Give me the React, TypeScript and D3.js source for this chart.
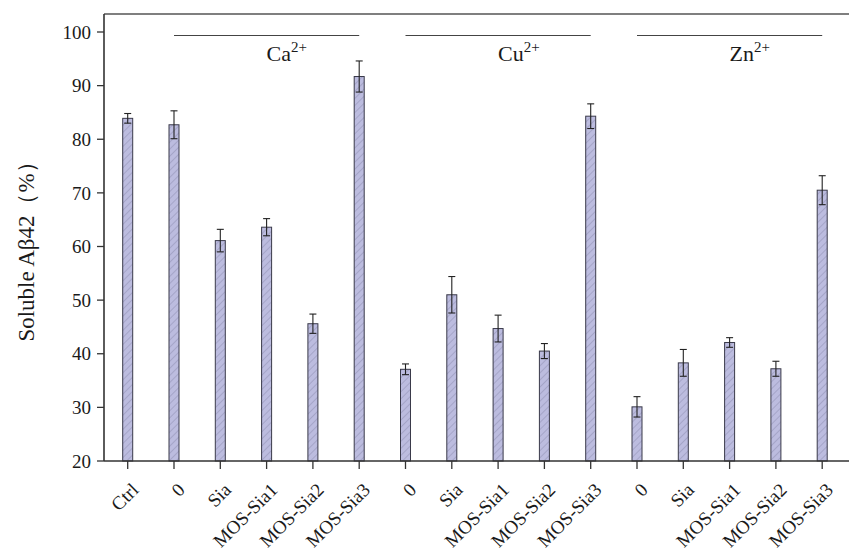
import React from "react";
import * as d3 from "d3";

const categories = ["Ctrl", "0", "Sia", "MOS-Sia1", "MOS-Sia2", "MOS-Sia3", "0", "Sia", "MOS-Sia1", "MOS-Sia2", "MOS-Sia3", "0", "Sia", "MOS-Sia1", "MOS-Sia2", "MOS-Sia3"];
const values = [83.9, 82.7, 61.1, 63.6, 45.6, 91.7, 37.1, 51.0, 44.7, 40.5, 84.3, 30.1, 38.3, 42.1, 37.2, 70.5];
const errors = [0.9, 2.6, 2.1, 1.6, 1.8, 2.9, 1.0, 3.4, 2.5, 1.4, 2.3, 1.9, 2.5, 0.9, 1.4, 2.7];
const yTicks = [20, 30, 40, 50, 60, 70, 80, 90, 100];
const groupNames = ["Ca", "Cu", "Zn"];
const groupStart = [1, 6, 11];
const groupEnd = [5, 10, 15];

const W = 849;
const H = 554;
const FONT = "'Times New Roman', 'Liberation Serif', serif";

export default function App() {
  const idx = categories.map((_, i) => i);
  const x = d3.scalePoint<number>().domain(idx).range([127.7, 822.2]);
  const y = d3.scaleLinear().domain([20, 100]).range([461, 32]);
  const left = 104;
  const top = 14;
  const bottom = y(20);
  const barW = 10;
  const capW = 7;

  return (
    <svg width={W} height={H} style={{ position: "absolute", left: 0, top: 0, background: "#fff" }} fontFamily={FONT}>
      <defs>
        <pattern id="hatch" patternUnits="userSpaceOnUse" width="5" height="5" patternTransform="rotate(45)">
          <rect width="5" height="5" fill="#bcbcdf" />
          <line x1="0" y1="0" x2="0" y2="5" stroke="#8e8eb2" strokeWidth="1" />
        </pattern>
      </defs>

      {/* bars */}
      {idx.map((i) => (
        <rect key={"b" + i} x={x(i)! - barW / 2} y={y(values[i])} width={barW} height={bottom - y(values[i])}
          fill="url(#hatch)" stroke="#3a3a4a" strokeWidth={1} />
      ))}

      {/* error bars */}
      {idx.map((i) => {
        const cx = x(i)!;
        const hi = y(values[i] + errors[i]);
        const lo = y(values[i] - errors[i]);
        return (
          <g key={"e" + i} stroke="#222" strokeWidth={1.1}>
            <line x1={cx} x2={cx} y1={hi} y2={lo} />
            <line x1={cx - capW / 2} x2={cx + capW / 2} y1={hi} y2={hi} />
            <line x1={cx - capW / 2} x2={cx + capW / 2} y1={lo} y2={lo} />
          </g>
        );
      })}

      {/* frame */}
      <line x1={left} x2={W + 2} y1={top} y2={top} stroke="#555" strokeWidth={1.6} />
      <line x1={left} x2={left} y1={top} y2={bottom} stroke="#333" strokeWidth={1.6} />
      <line x1={left} x2={W + 2} y1={bottom} y2={bottom} stroke="#333" strokeWidth={1.6} />

      {/* y ticks */}
      {yTicks.map((t) => (
        <g key={"yt" + t}>
          <line x1={left - 7} x2={left} y1={y(t)} y2={y(t)} stroke="#333" strokeWidth={1.3} />
          <text x={left - 13} y={y(t)} dy="0.35em" textAnchor="end" fontSize={19} fill="#1a1a1a">{t}</text>
        </g>
      ))}

      {/* x ticks and labels */}
      {idx.map((i) => (
        <g key={"xt" + i}>
          <line x1={x(i)} x2={x(i)} y1={bottom} y2={bottom + 8} stroke="#333" strokeWidth={1.3} />
          <text transform={`translate(${x(i)! + 12},${491}) rotate(-45)`} textAnchor="end" fontSize={19} fill="#1a1a1a">
            {categories[i]}
          </text>
        </g>
      ))}

      {/* group annotations */}
      {groupNames.map((g, k) => {
        const x0 = x(groupStart[k])!;
        const x1 = x(groupEnd[k])!;
        const mid = (x0 + x1) / 2;
        return (
          <g key={"g" + g}>
            <line x1={x0} x2={x1} y1={35.5} y2={35.5} stroke="#444" strokeWidth={1.2} />
            <text x={mid} y={61} fontSize={22} fill="#1a1a1a">
              {g}
              <tspan fontSize={15} dy={-9}>2+</tspan>
            </text>
          </g>
        );
      })}

      {/* y axis title */}
      <text transform={`translate(34,246) rotate(-90)`} textAnchor="middle" fontSize={23} fill="#1a1a1a">
        Soluble Aβ42（%）
      </text>
    </svg>
  );
}
